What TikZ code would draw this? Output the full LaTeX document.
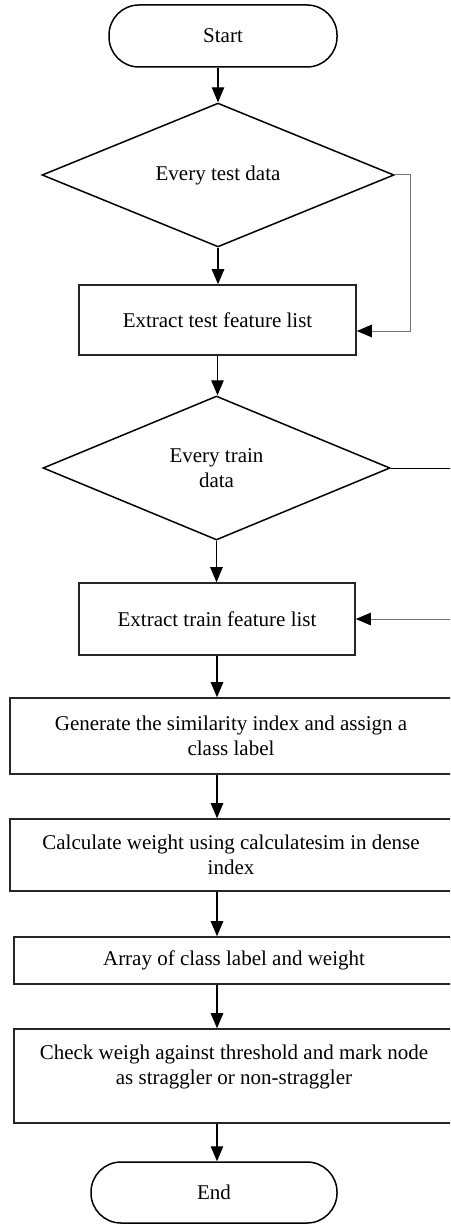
\documentclass[tikz,border=0pt]{standalone}
\usepackage{fontspec}
\setmainfont{Liberation Serif}
\usetikzlibrary{arrows.meta,shapes.geometric}
\begin{document}
\begin{tikzpicture}[x=1pt,y=-1pt,
  every node/.style={font=\fontsize{21}{24.5}\selectfont, align=center, inner sep=0pt},
  term/.style={draw, line width=1.5pt, rounded corners=30pt},
  procbox/.style={draw=black!85, line width=1.6pt},
  decision/.style={draw, shape=diamond, line width=1.5pt},
  flow/.style={line width=1.1pt, -{Triangle[width=12.5pt,length=15pt]}},
  loopline/.style={draw=black!55, line width=1pt, -{Triangle[width=12.5pt,length=15pt]}, arrows={-{Triangle[width=12.5pt,length=15pt,fill=black,color=black]}}}
]
\useasboundingbox (0,0) rectangle (450,1225);
\clip (0,0) rectangle (450,1225);
\fill[white] (0,0) rectangle (450,1225);

\node[term, minimum width=228pt, minimum height=62pt] (start) at (223,36) {Start};
\node[decision, minimum width=352pt, minimum height=130pt] (d1) at (218,175) {Every test data};
\node[procbox, minimum width=277pt, minimum height=70pt] (b1) at (217.5,320) {Extract test feature list};
\node[decision, minimum width=347pt, minimum height=144pt] (d2) at (216.5,468) {Every train\\data};
\node[procbox, minimum width=276pt, minimum height=72pt] (b2) at (217,619) {Extract train feature list};
\node[procbox, minimum width=442pt, minimum height=76pt] (b3) at (231,736) {Generate the similarity index and assign a\\class label};
\node[procbox, minimum width=442pt, minimum height=72pt] (b4) at (231,855) {Calculate weight using calculatesim in dense\\index};
\node[procbox, minimum width=440pt, minimum height=47pt] (b5) at (234,960.5) {Array of class label and weight};
\node[procbox, minimum width=440pt, minimum height=94pt] (b6) at (234,1076) {};
\node (b6t) at (234,1067) {Check weigh against threshold and mark node\\as straggler or non-straggler};
\node[term, minimum width=246pt, minimum height=61pt] (end) at (214,1192.5) {End};

\coordinate (l1) at (410,331);
\coordinate (l2) at (480,540);

\draw[flow] (start.south -| d1.north) -- (d1.north);
\draw[flow] (d1.south) -- (d1.south |- b1.north);
\draw[flow] (b1.south) -- (b1.south |- d2.north);
\draw[flow] (d2.south) -- (d2.south |- b2.north);
\draw[flow] (b2.south) -- (b2.south |- b3.north);
\draw[flow] (b3.south -| b2.south) -- (b4.north -| b2.south);
\draw[flow] (b4.south -| b2.south) -- (b5.north -| b2.south);
\draw[flow] (b5.south -| b2.south) -- (b6.north -| b2.south);
\draw[flow] (b6.south -| b2.south) -- (end.north -| b2.south);

\draw[loopline] (d1.east) -| (l1) -- (l1 -| b1.east);
\draw[line width=1pt] (d2.east) -- (d2.east -| l2);
\draw[loopline] (l2 |- b2.east) -- (b2.east);
\end{tikzpicture}
\end{document}
